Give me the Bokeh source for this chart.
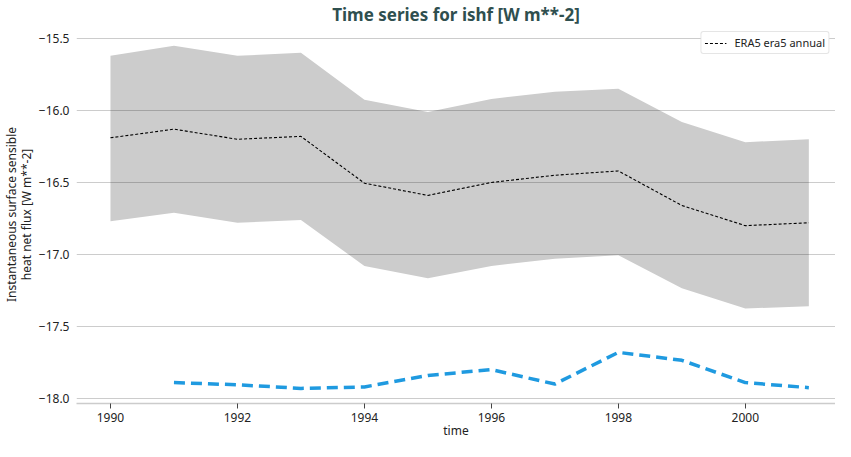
from bokeh.plotting import figure
from bokeh.models import FixedTicker, Legend, LegendItem, Range1d, ColumnDataSource
from bokeh.embed import file_html
from bokeh.resources import INLINE

# ---- data ----
years = [1990, 1991, 1992, 1993, 1994, 1995, 1996, 1997, 1998, 1999, 2000, 2001]
era5_mean = [-16.19, -16.13, -16.20, -16.18, -16.505, -16.59, -16.50, -16.45, -16.42, -16.66, -16.80, -16.78]
era5_upper = [-15.62, -15.55, -15.62, -15.60, -15.925, -16.01, -15.92, -15.87, -15.85, -16.08, -16.22, -16.20]
era5_lower = [-16.77, -16.71, -16.78, -16.76, -17.08, -17.165, -17.08, -17.03, -17.005, -17.235, -17.375, -17.36]

other_years = [1991, 1992, 1993, 1994, 1995, 1996, 1997, 1998, 1999, 2000, 2001]
other_values = [-17.89, -17.905, -17.93, -17.92, -17.84, -17.80, -17.90, -17.68, -17.735, -17.89, -17.925]

x_ticks = [1990, 1992, 1994, 1996, 1998, 2000]
y_ticks = [-15.5, -16.0, -16.5, -17.0, -17.5, -18.0]
y_tick_labels = ["\u221215.5", "\u221216.0", "\u221216.5", "\u221217.0", "\u221217.5", "\u221218.0"]

title_text = "Time series for ishf [W m**-2]"
x_label = "time"
y_label = "Instantaneous surface sensible\nheat net flux [W m**-2]"
legend_label = "ERA5 era5 annual"

FONT = "Noto Sans"

src = ColumnDataSource(dict(x=years, mean=era5_mean, upper=era5_upper, lower=era5_lower))
src2 = ColumnDataSource(dict(x=other_years, y=other_values))

p = figure(width=835, height=441, output_backend="svg", toolbar_location=None,
           x_range=Range1d(1989.465, 2001.42), y_range=Range1d(-18.035, -15.41),
           min_border=0, min_border_left=0, min_border_right=0, min_border_top=0, min_border_bottom=0)

p.title.text = title_text
p.title.align = "center"
p.title.text_color = "#2f4f4f"
p.title.text_font = FONT
p.title.text_font_size = "17px"
p.title.text_font_style = "bold"
p.title.text_line_height = 1.0
p.title.offset = 0
p.title.standoff = 0

p.outline_line_color = None
p.background_fill_color = "white"
p.border_fill_color = "white"

band = p.varea(x="x", y1="lower", y2="upper", source=src, fill_color="#cccccc", fill_alpha=1.0, level="image")
mean_r = p.line(x="x", y="mean", source=src, line_color="black", line_width=1.1, line_dash="3 2")
p.line(x="x", y="y", source=src2, line_color="#1f9ae0", line_width=3.5, line_dash="11 6")

# grid
p.xgrid.grid_line_color = None
p.ygrid.grid_line_color = "black"
p.ygrid.grid_line_alpha = 0.2
p.ygrid.grid_line_width = 1.2
p.ygrid.ticker = FixedTicker(ticks=y_ticks)

# x axis
xa = p.xaxis[0]
xa.ticker = FixedTicker(ticks=x_ticks)
xa.axis_label = x_label
xa.axis_label_text_font = FONT
xa.axis_label_text_font_size = "12px"
xa.axis_label_text_font_style = "normal"
xa.axis_label_text_color = "#222222"
xa.axis_label_text_line_height = 1.0
xa.axis_label_standoff = -3
xa.major_label_text_font = FONT
xa.major_label_text_font_size = "12px"
xa.major_label_text_color = "#222222"
xa.major_label_standoff = 4
xa.axis_line_color = "#cccccc"
xa.axis_line_width = 1.5
xa.major_tick_line_color = "#444444"
xa.major_tick_in = 0
xa.major_tick_out = 5
xa.minor_tick_line_color = None

# y axis
ya = p.yaxis[0]
ya.ticker = FixedTicker(ticks=y_ticks)
ya.major_label_overrides = {t: lab for t, lab in zip(y_ticks, y_tick_labels)}
ya.axis_label = y_label
ya.axis_label_text_font = FONT
ya.axis_label_text_font_size = "12px"
ya.axis_label_text_font_style = "normal"
ya.axis_label_text_color = "#222222"
ya.axis_label_text_line_height = 0.85
ya.axis_label_standoff = 1
ya.major_label_text_font = FONT
ya.major_label_text_font_size = "12px"
ya.major_label_text_color = "#222222"
ya.major_label_standoff = 1
ya.axis_line_color = None
ya.major_tick_line_color = None
ya.minor_tick_line_color = None

legend = Legend(items=[LegendItem(label=legend_label, renderers=[mean_r])],
                location="top_right")
legend.label_text_font = FONT
legend.label_text_font_size = "11px"
legend.label_text_color = "#222222"
legend.border_line_color = "#cccccc"
legend.border_line_width = 1
legend.border_radius = 3
legend.background_fill_color = "white"
legend.background_fill_alpha = 1.0
legend.glyph_width = 22
legend.glyph_height = 12
legend.padding = 3
legend.margin = 6
legend.spacing = 0
legend.label_standoff = 8
p.add_layout(legend)

open("out.html", "w").write(file_html(p, INLINE))
